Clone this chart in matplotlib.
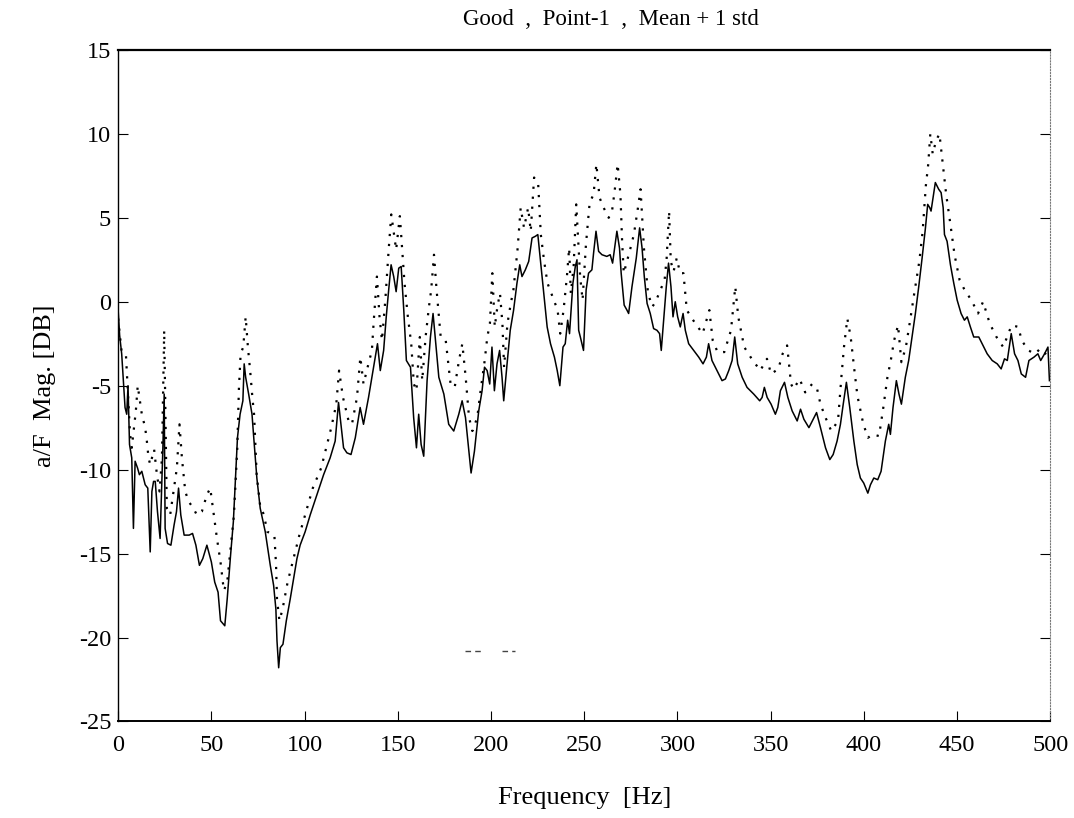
import numpy as np
import matplotlib
matplotlib.use('Agg')
import matplotlib.pyplot as plt

plt.rcParams['font.family'] = ['Liberation Serif', 'DejaVu Serif']
plt.rcParams['axes.unicode_minus'] = False

# mean response (solid)
mean_f = [0.0, 0.8, 1.9, 2.8, 3.7, 4.6, 5.3, 6.1, 7.3, 8.2, 9.1, 10.4, 11.4, 12.7, 14.5, 15.9, 17.2, 18.1, 19.0, 19.9,
          21.1, 22.5, 24.0, 24.7, 25.2, 26.5, 28.3, 30.0, 31.3, 32.4, 33.6, 35.4, 38.1, 39.9, 41.7, 43.6, 45.4, 47.6,
          50.0, 51.8, 53.6, 54.9, 57.2, 58.5, 60.3, 61.8, 62.7, 64.0, 65.4, 66.9, 67.6, 68.4, 70.0, 71.8, 72.6, 74.4,
          76.2, 78.9, 81.6, 83.4, 84.6, 85.2, 86.1, 87.0, 88.4, 90.2, 92.3, 94.1, 95.9, 97.6, 100.3, 103.0, 106.6,
          110.2, 113.7, 116.4, 118.2, 120.9, 122.7, 124.9, 127.2, 129.8, 131.6, 134.3, 136.1, 137.9, 139.1, 140.6,
          142.4, 143.8, 145.1, 146.4, 147.8, 149.1, 150.5, 151.8, 153.2, 154.6, 156.8, 158.5, 160.0, 161.2, 162.5,
          163.9, 165.7, 167.5, 168.9, 170.2, 172.0, 174.7, 177.3, 180.0, 182.7, 184.5, 186.3, 188.1, 189.3, 191.1,
          193.4, 195.2, 196.5, 197.9, 199.3, 200.5, 201.8, 203.2, 204.6, 205.9, 206.8, 208.6, 210.3, 212.1, 213.9,
          215.4, 216.6, 218.4, 220.2, 222.0, 223.8, 225.1, 226.9, 228.3, 230.1, 231.9, 234.0, 235.5, 236.9, 238.6,
          239.8, 241.1, 242.1, 243.9, 245.2, 246.1, 247.0, 247.9, 249.6, 251.0, 252.3, 254.1, 255.0, 256.3, 257.7,
          259.5, 262.1, 263.9, 265.2, 266.3, 267.5, 268.9, 269.8, 271.4, 272.9, 273.8, 275.6, 277.9, 279.7, 281.0,
          282.2, 283.7, 285.4, 287.2, 289.0, 290.4, 291.3, 292.6, 294.0, 295.2, 296.5, 297.6, 298.8, 300.1, 301.5,
          303.0, 304.2, 306.0, 308.7, 311.4, 313.7, 315.5, 316.7, 318.5, 321.2, 323.9, 325.7, 327.5, 329.3, 330.7,
          332.3, 334.7, 337.3, 340.9, 344.1, 345.4, 346.6, 348.1, 350.2, 352.5, 353.8, 355.2, 357.4, 359.2, 361.5,
          364.2, 366.0, 367.8, 370.5, 372.8, 374.6, 376.7, 379.4, 381.7, 383.5, 385.6, 387.4, 388.9, 390.6, 392.4,
          394.6, 396.4, 398.1, 399.9, 402.1, 403.5, 405.3, 407.4, 409.2, 411.5, 413.3, 414.2, 415.6, 417.4, 418.8,
          420.1, 422.2, 424.0, 425.8, 427.6, 429.4, 431.2, 433.0, 434.2, 435.3, 436.0, 437.1, 438.3, 440.1, 441.4,
          442.5, 443.2, 444.6, 446.4, 448.2, 450.0, 452.1, 453.9, 455.4, 457.1, 458.9, 461.6, 463.4, 466.1, 468.8,
          471.5, 473.6, 475.4, 476.9, 479.0, 480.8, 482.6, 484.4, 486.7, 488.5, 491.2, 493.3, 494.8, 496.9, 498.7,
          499.5]
mean_db = [-0.5, -2.0, -3.1, -4.7, -6.3, -6.7, -5.0, -8.5, -9.3, -13.5, -9.5, -9.9, -10.3, -10.1, -10.9, -11.1, -14.9,
           -11.3, -10.7, -10.7, -12.5, -14.1, -8.7, -5.5, -13.5, -14.4, -14.5, -13.3, -12.5, -11.1, -12.7, -13.9,
           -13.9, -13.8, -14.5, -15.7, -15.3, -14.5, -15.5, -16.7, -17.3, -19.0, -19.3, -17.7, -15.1, -13.1, -11.1,
           -8.1, -6.7, -5.9, -3.7, -4.5, -5.5, -6.7, -7.9, -10.5, -12.3, -13.7, -15.7, -16.9, -18.3, -20.2, -21.8,
           -20.6, -20.4, -19.0, -17.7, -16.5, -15.3, -14.5, -13.7, -12.7, -11.5, -10.3, -9.3, -8.3, -6.0, -8.7, -9.0,
           -9.1, -8.1, -6.3, -7.3, -5.7, -4.5, -3.3, -2.5, -4.1, -2.9, -0.9, 0.7, 2.2, 1.5, 0.6, 2.0, 2.1, -0.5, -3.5,
           -3.9, -6.9, -8.7, -6.7, -8.5, -9.2, -4.7, -2.1, -0.7, -2.3, -4.5, -5.5, -7.3, -7.7, -6.7, -5.9, -6.9, -8.9,
           -10.2, -8.9, -6.5, -5.3, -3.9, -4.1, -4.9, -2.7, -5.3, -3.7, -2.9, -4.5, -5.9, -3.7, -1.7, -0.5, 1.1, 2.2,
           1.5, 1.9, 2.4, 3.8, 3.9, 4.0, 2.0, 0.4, -1.5, -2.5, -3.3, -4.1, -5.0, -2.7, -2.5, -1.1, -1.9, 1.1, 2.1, 2.5,
           -1.7, -2.1, -2.9, 0.7, 1.7, 1.9, 2.9, 4.2, 3.0, 2.8, 2.7, 2.8, 2.3, 3.2, 4.2, 3.2, 1.7, -0.2, -0.5, -0.7,
           0.9, 2.6, 4.4, 3.2, 1.5, -0.1, -0.7, -1.6, -1.7, -1.9, -2.9, -1.1, 0.9, 2.3, 0.9, -0.9, 0.0, -0.9, -1.5,
           -0.7, -1.7, -2.5, -2.9, -3.3, -3.7, -3.3, -2.5, -3.5, -4.1, -4.7, -4.6, -4.1, -3.5, -2.1, -3.7, -4.5, -5.1,
           -5.5, -5.9, -5.7, -5.1, -5.7, -6.1, -6.7, -6.3, -5.3, -4.8, -5.7, -6.5, -7.1, -6.4, -7.0, -7.5, -7.0, -6.6,
           -7.5, -8.7, -9.4, -9.1, -8.3, -7.3, -6.1, -4.8, -6.3, -8.3, -9.7, -10.5, -10.8, -11.4, -10.9, -10.5, -10.6,
           -10.1, -8.3, -7.3, -7.9, -6.3, -4.7, -5.5, -6.1, -4.5, -3.5, -2.1, -0.7, 0.9, 2.6, 4.4, 5.8, 5.6, 5.4, 6.2,
           7.1, 6.7, 6.5, 5.6, 4.0, 3.6, 2.2, 1.1, 0.1, -0.7, -1.1, -0.9, -1.5, -2.1, -2.1, -2.5, -3.1, -3.5, -3.7,
           -4.0, -3.4, -3.5, -1.9, -3.1, -3.5, -4.3, -4.5, -3.5, -3.3, -3.1, -3.5, -3.1, -2.7, -4.7]

# mean + 1 std (dotted)
std_f = [0.0, 1.9, 4.2, 6.4, 7.3, 9.5, 10.5, 12.7, 14.5, 15.4, 16.3, 17.2, 18.6, 19.3, 20.8, 22.2, 23.5, 24.7, 26.1,
         27.9, 29.7, 31.5, 32.9, 34.2, 36.0, 37.8, 40.4, 42.2, 44.9, 47.6, 49.4, 51.3, 53.0, 54.9, 56.7, 58.5, 60.3,
         62.1, 63.0, 63.9, 64.8, 65.7, 67.1, 68.4, 69.6, 70.8, 72.0, 72.9, 74.3, 76.1, 78.2, 80.0, 83.8, 84.7, 85.2,
         86.5, 88.2, 90.9, 93.6, 97.2, 100.8, 104.4, 108.9, 114.3, 117.0, 118.5, 120.6, 123.6, 125.4, 128.1, 129.9,
         131.6, 133.8, 136.1, 137.0, 138.8, 140.2, 141.5, 143.3, 145.1, 146.5, 148.2, 149.1, 151.1, 152.3, 153.6,
         155.4, 157.2, 158.6, 160.0, 161.8, 163.1, 164.9, 166.7, 167.9, 169.4, 170.8, 173.0, 175.7, 178.3, 180.5,
         182.8, 184.6, 186.4, 188.2, 190.0, 192.6, 194.4, 196.6, 198.0, 199.4, 200.7, 202.0, 203.4, 204.8, 206.1,
         207.0, 208.8, 210.6, 212.0, 214.2, 215.9, 217.7, 219.9, 221.3, 223.1, 225.3, 226.7, 228.5, 230.3, 233.0,
         235.7, 237.1, 238.9, 240.7, 241.9, 242.8, 244.3, 245.7, 247.8, 249.1, 250.9, 252.9, 255.0, 256.5, 258.2,
         260.4, 263.1, 264.9, 266.3, 267.9, 269.4, 270.3, 271.2, 274.8, 276.6, 278.8, 280.2, 282.0, 284.2, 286.5,
         288.3, 290.1, 293.1, 294.2, 295.5, 296.4, 297.9, 299.6, 301.4, 303.2, 305.0, 309.0, 313.5, 317.1, 318.9,
         321.5, 325.1, 328.7, 331.0, 332.6, 335.8, 339.8, 344.4, 348.0, 350.2, 354.1, 356.4, 358.8, 360.9, 362.3,
         365.5, 368.5, 372.2, 374.9, 376.7, 379.4, 382.5, 386.1, 387.9, 389.3, 391.1, 392.9, 394.7, 396.5, 399.7,
         402.2, 404.5, 408.1, 410.4, 412.6, 414.4, 416.2, 418.3, 420.1, 422.5, 424.8, 427.0, 429.7, 431.5, 433.2,
         434.5, 435.6, 436.9, 438.7, 440.5, 442.3, 444.1, 446.4, 448.6, 451.3, 454.0, 457.6, 461.2, 463.9, 467.5,
         471.1, 474.7, 479.2, 482.8, 484.6, 488.2, 491.8, 494.5, 497.2, 499.8]
std_db = [-1.0, -3.0, -3.2, -7.9, -8.7, -6.5, -5.0, -6.7, -7.5, -8.3, -9.3, -9.7, -9.1, -8.8, -10.3, -11.3, -9.3, -1.7,
          -12.3, -12.7, -11.3, -9.9, -7.3, -9.3, -11.3, -11.9, -12.3, -12.7, -12.5, -11.5, -11.1, -12.7, -14.1, -15.5,
          -17.2, -16.7, -14.7, -12.7, -10.7, -8.7, -5.1, -3.1, -2.7, -0.9, -2.7, -4.1, -5.7, -6.7, -10.3, -12.1, -12.7,
          -13.7, -13.9, -15.7, -17.7, -19.0, -18.3, -16.7, -15.5, -13.9, -12.5, -11.1, -9.9, -7.5, -6.1, -4.1, -5.7,
          -7.1, -7.3, -5.7, -3.3, -4.9, -3.9, -2.9, -1.3, 1.5, -0.9, -2.3, 0.1, 3.1, 5.2, 3.8, 3.1, 5.1, 3.2, 1.1,
          -0.9, -2.5, -4.9, -5.3, -2.1, -4.7, -2.1, -0.3, 0.7, 2.8, 0.7, -2.1, -2.3, -4.9, -5.1, -3.5, -2.5, -4.5,
          -6.9, -7.7, -6.9, -5.3, -3.5, -2.1, -1.3, 1.7, -1.5, -0.3, 0.5, -1.3, -3.9, -1.3, -0.1, 0.7, 3.1, 5.6, 4.4,
          5.6, 4.2, 7.4, 7.0, 4.0, 2.4, 1.1, 0.3, -0.5, -1.9, -0.5, 1.5, 3.2, 0.5, 2.1, 5.8, 1.5, 0.1, 3.4, 5.9, 6.4,
          8.2, 6.2, 5.6, 5.0, 5.4, 6.6, 8.2, 6.4, 3.6, 1.7, 3.2, 4.0, 5.6, 6.7, 3.2, 0.5, -0.3, 0.0, 0.5, 1.3, 2.6,
          5.4, 2.4, 1.8, 2.6, 1.7, 1.7, -0.5, -1.2, -1.9, -0.5, -2.3, -3.0, -3.0, -1.7, 0.9, -0.9, -2.7, -3.4, -4.1,
          -3.4, -4.3, -4.0, -3.1, -2.6, -4.9, -5.2, -4.6, -5.4, -4.9, -5.2, -6.1, -6.9, -7.7, -7.1, -4.5, -2.7, -1.0,
          -2.1, -3.9, -5.6, -7.3, -8.1, -7.9, -8.0, -6.3, -4.5, -3.5, -2.3, -1.4, -3.6, -2.7, -1.1, 0.5, 2.4, 4.2,
          6.9, 8.2, 10.0, 8.8, 9.6, 10.0, 8.2, 6.4, 4.6, 2.8, 1.3, 0.7, 0.1, -0.7, 0.0, -1.3, -2.1, -2.7, -1.4, -1.5,
          -2.3, -2.9, -3.1, -2.8, -3.1, -2.7]

# stray dashed fragment in the plot area
frag_f = [186, 196]
frag_f2 = [206, 213]
frag_db = [-20.8, -20.8]

xticks = [0, 50, 100, 150, 200, 250, 300, 350, 400, 450, 500]
yticks = [-25, -20, -15, -10, -5, 0, 5, 10, 15]

fig = plt.figure(figsize=(10.74, 8.18), dpi=100)
ax = fig.add_axes([0.110, 0.118, 0.868, 0.821])

ax.plot(mean_f, mean_db, color='black', lw=1.1)
ax.plot(std_f, std_db, color='black', lw=1.6, linestyle=(0, (1, 3.5)))
ax.plot(frag_f, frag_db, color='#444444', lw=1.0, linestyle=(0, (4, 3)))
ax.plot(frag_f2, frag_db, color='#444444', lw=1.0, linestyle=(0, (4, 3)))

ax.set_xlim(0, 500)
ax.set_ylim(-25, 15)
ax.set_xticks(xticks)
ax.set_yticks(yticks)
ax.tick_params(direction='in', length=7, labelsize=17.5, right=True, top=False)
ax.tick_params(axis='x', pad=10)
ax.tick_params(axis='y', pad=5)

ax.spines['top'].set_linewidth(1.6)
ax.spines['bottom'].set_linewidth(1.4)
ax.spines['left'].set_linewidth(1.0)
ax.spines['right'].set_linestyle(':')
ax.spines['right'].set_color('#777777')

ax.set_title('Good  ,  Point-1  ,  Mean + 1 std', fontsize=16.5, pad=18, x=0.529)
ax.set_xlabel('Frequency  [Hz]', fontsize=19, labelpad=22)
ax.set_ylabel('a/F  Mag. [DB]', fontsize=19, labelpad=16)

plt.savefig('out.png', dpi=100)
